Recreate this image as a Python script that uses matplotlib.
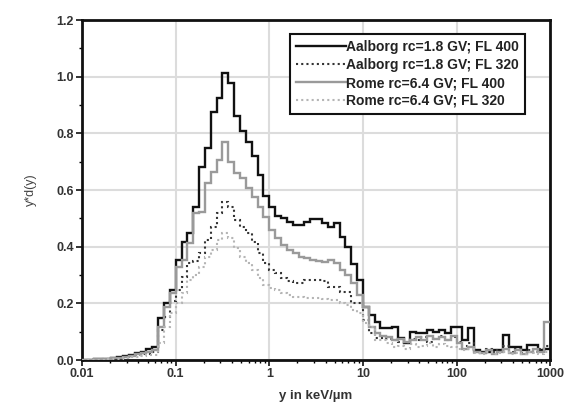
import numpy as np
import matplotlib
matplotlib.use("Agg")
import matplotlib.pyplot as plt
from matplotlib.lines import Line2D

# Bin edges: 16 log bins per decade from 0.01 to 1000 keV/um
bin_edges = np.logspace(-2, 3, 81)

aalborg_fl400 = [
    0.0, 0.0, 0.002, 0.003, 0.005, 0.007, 0.01, 0.014, 0.018, 0.024,
    0.03, 0.04, 0.046, 0.15, 0.20, 0.247, 0.353, 0.415, 0.448, 0.54,
    0.68, 0.75, 0.875, 0.925, 1.013, 0.977, 0.86, 0.81, 0.77, 0.72,
    0.653, 0.58, 0.54, 0.51, 0.50, 0.487, 0.477, 0.475, 0.487, 0.497,
    0.497, 0.485, 0.47, 0.483, 0.435, 0.40, 0.34, 0.283, 0.187, 0.16,
    0.135, 0.112, 0.112, 0.117, 0.078, 0.06, 0.10, 0.095, 0.095, 0.106,
    0.10, 0.105, 0.095, 0.117, 0.117, 0.07, 0.113, 0.035, 0.03, 0.03,
    0.035, 0.035, 0.088, 0.047, 0.047, 0.035, 0.053, 0.053, 0.035, 0.04,
]
aalborg_fl320 = [
    0.0, 0.0, 0.001, 0.002, 0.003, 0.005, 0.007, 0.01, 0.013, 0.017,
    0.02, 0.022, 0.03, 0.106, 0.152, 0.21, 0.247, 0.293, 0.342, 0.35,
    0.377, 0.423, 0.47, 0.52, 0.557, 0.54, 0.494, 0.47, 0.448, 0.417,
    0.377, 0.342, 0.318, 0.307, 0.29, 0.28, 0.272, 0.272, 0.283, 0.283,
    0.283, 0.28, 0.258, 0.258, 0.24, 0.24, 0.2, 0.2, 0.14, 0.095,
    0.078, 0.078, 0.075, 0.07, 0.065, 0.06, 0.075, 0.07, 0.08, 0.065,
    0.075, 0.085, 0.07, 0.08, 0.065, 0.05, 0.06, 0.03, 0.025, 0.04,
    0.03, 0.035, 0.05, 0.03, 0.04, 0.025, 0.035, 0.03, 0.04, 0.05,
]
rome_fl400 = [
    0.0, 0.0, 0.002, 0.003, 0.004, 0.006, 0.008, 0.011, 0.015, 0.02,
    0.025, 0.03, 0.035, 0.117, 0.187, 0.235, 0.33, 0.353, 0.413, 0.52,
    0.523, 0.625, 0.665, 0.706, 0.77, 0.70, 0.66, 0.642, 0.607, 0.575,
    0.54, 0.505, 0.46, 0.43, 0.405, 0.39, 0.377, 0.364, 0.36, 0.353,
    0.35, 0.346, 0.353, 0.342, 0.318, 0.30, 0.272, 0.23, 0.187, 0.117,
    0.095, 0.085, 0.082, 0.07, 0.075, 0.065, 0.07, 0.08, 0.07, 0.085,
    0.075, 0.08, 0.07, 0.085, 0.06, 0.04, 0.045, 0.03, 0.025, 0.035,
    0.02, 0.03, 0.04, 0.025, 0.035, 0.02, 0.03, 0.04, 0.03, 0.135,
]
rome_fl320 = [
    0.0, 0.0, 0.001, 0.001, 0.002, 0.003, 0.005, 0.007, 0.009, 0.012,
    0.015, 0.017, 0.018, 0.06, 0.117, 0.165, 0.2, 0.235, 0.283, 0.30,
    0.33, 0.364, 0.388, 0.423, 0.448, 0.43, 0.395, 0.364, 0.342, 0.318,
    0.29, 0.265, 0.255, 0.247, 0.235, 0.23, 0.222, 0.222, 0.22, 0.218,
    0.218, 0.215, 0.212, 0.212, 0.2, 0.194, 0.175, 0.165, 0.13, 0.117,
    0.07, 0.07, 0.06, 0.046, 0.05, 0.04, 0.055, 0.045, 0.05, 0.06,
    0.045, 0.055, 0.05, 0.045, 0.04, 0.035, 0.04, 0.025, 0.02, 0.03,
    0.02, 0.025, 0.03, 0.02, 0.025, 0.02, 0.03, 0.025, 0.02, 0.03,
]

labels = [
    "Aalborg rc=1.8 GV; FL 400",
    "Aalborg rc=1.8 GV; FL 320",
    "Rome rc=6.4 GV; FL 400",
    "Rome rc=6.4 GV; FL 320",
]
x_ticks = [0.01, 0.1, 1, 10, 100, 1000]
x_ticklabels = ["0.01", "0.1", "1", "10", "100", "1000"]
y_ticks = [0.0, 0.2, 0.4, 0.6, 0.8, 1.0, 1.2]
y_ticklabels = ["0.0", "0.2", "0.4", "0.6", "0.8", "1.0", "1.2"]

plt.rcParams['font.family'] = ['Liberation Sans', 'DejaVu Sans']

fig = plt.figure(figsize=(5.66, 4.11), dpi=100)
ax = fig.add_axes([0.145, 0.124, 0.827, 0.827])

styles = [
    dict(color="#111111", lw=1.7, ls="-"),
    dict(color="#333333", lw=1.5, ls=(0, (1, 1.5))),
    dict(color="#9a9a9a", lw=1.7, ls="-"),
    dict(color="#b5b5b5", lw=1.5, ls=(0, (1, 1.5))),
]
series = [aalborg_fl400, aalborg_fl320, rome_fl400, rome_fl320]
handles = []
for vals, st, lab in zip(series, styles, labels):
    ax.stairs(vals, bin_edges, baseline=None, color=st["color"],
              linewidth=st["lw"], linestyle=st["ls"], zorder=3)
    handles.append(Line2D([], [], color=st["color"], lw=st["lw"], ls=st["ls"]))

ax.set_xscale("log")
ax.set_xlim(0.01, 1000)
ax.set_ylim(0, 1.2)
ax.set_xticks(x_ticks)
ax.set_xticklabels(x_ticklabels)
ax.set_yticks(y_ticks)
ax.set_yticklabels(y_ticklabels)
ax.set_yticks(np.arange(0.1, 1.2, 0.2), minor=True)
ax.grid(True, which="major", color="#dcdcdc", lw=1.5, zorder=0)
ax.set_axisbelow(True)

for sp in ax.spines.values():
    sp.set_linewidth(2.0)
    sp.set_color("#111111")

ax.tick_params(which="major", direction="out", length=4, width=1.2,
               labelsize=9, pad=2, colors="#111111")
ax.tick_params(which="minor", direction="out", length=2.5, width=1.0)
for t in ax.get_xticklabels() + ax.get_yticklabels():
    t.set_fontweight("bold")
    t.set_color("#333333")

ax.set_xlabel("y in keV/µm", fontsize=9.5, fontweight="bold", color="#333333", labelpad=7)
ax.set_ylabel("y*d(y)", fontsize=9, color="#444444", labelpad=14)

leg = ax.legend(handles, labels, loc="upper right", bbox_to_anchor=(0.947, 0.959),
                borderaxespad=0, fancybox=False, framealpha=1, edgecolor="#111111",
                handlelength=3.6, handletextpad=0.0, labelspacing=0.28,
                borderpad=0.45, prop=dict(size=10, weight="bold"))
leg.get_frame().set_linewidth(1.5)
for t in leg.get_texts():
    t.set_color("#222222")

fig.savefig("out.png", dpi=100)
